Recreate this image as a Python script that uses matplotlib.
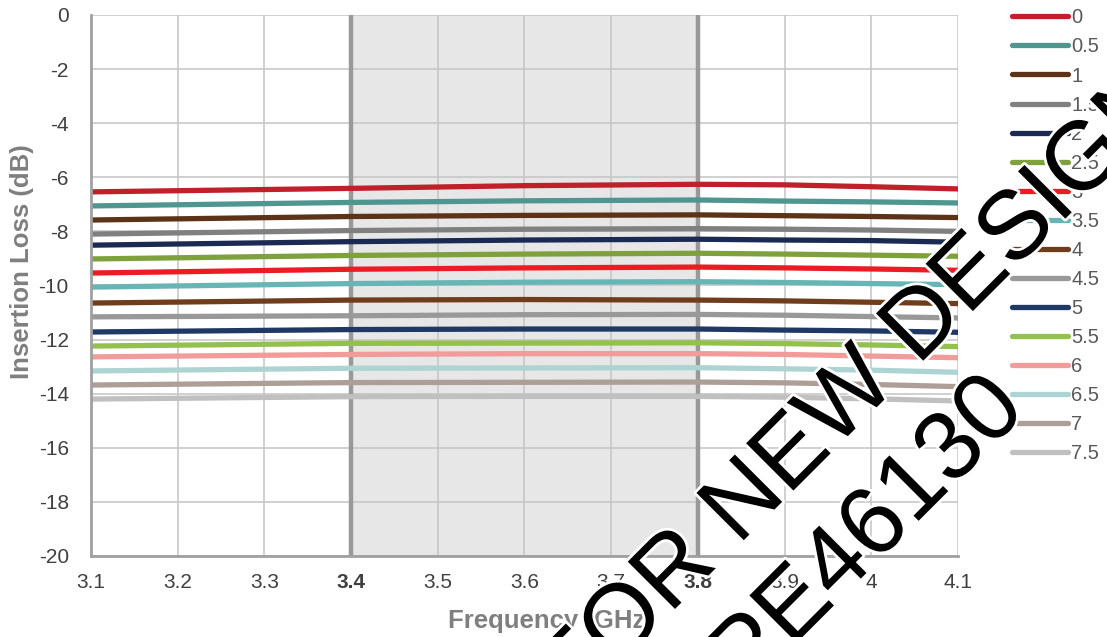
import matplotlib.pyplot as plt
import matplotlib.patheffects as pe

plt.rcParams['font.family'] = ['Liberation Sans', 'DejaVu Sans']

freq = [3.1, 3.4, 3.6, 3.8, 3.9, 4.0, 4.1]  # GHz

labels = ["0", "0.5", "1", "1.5", "2", "2.5", "3", "3.5",
          "4", "4.5", "5", "5.5", "6", "6.5", "7", "7.5"]

loss = [
    [-6.54, -6.41, -6.31, -6.26, -6.28, -6.35, -6.43],
    [-7.06, -6.93, -6.87, -6.84, -6.88, -6.91, -6.95],
    [-7.58, -7.45, -7.41, -7.39, -7.42, -7.45, -7.49],
    [-8.10, -7.97, -7.92, -7.90, -7.92, -7.95, -8.00],
    [-8.51, -8.38, -8.32, -8.29, -8.32, -8.34, -8.40],
    [-9.02, -8.89, -8.84, -8.81, -8.84, -8.88, -8.92],
    [-9.54, -9.40, -9.35, -9.32, -9.35, -9.39, -9.44],
    [-10.06, -9.93, -9.88, -9.86, -9.89, -9.93, -9.97],
    [-10.65, -10.54, -10.52, -10.54, -10.57, -10.62, -10.67],
    [-11.16, -11.12, -11.08, -11.07, -11.10, -11.15, -11.20],
    [-11.72, -11.63, -11.61, -11.61, -11.65, -11.68, -11.73],
    [-12.24, -12.14, -12.13, -12.12, -12.15, -12.20, -12.26],
    [-12.64, -12.55, -12.52, -12.52, -12.55, -12.61, -12.67],
    [-13.16, -13.06, -13.05, -13.04, -13.08, -13.13, -13.21],
    [-13.68, -13.59, -13.58, -13.57, -13.60, -13.66, -13.74],
    [-14.20, -14.11, -14.10, -14.10, -14.13, -14.19, -14.27],
]

colors = ["#c0202a", "#4f9590", "#5c3317", "#808080", "#1b2a52", "#7ea13e",
          "#ed1c24", "#67b5b5", "#6f3d1c", "#999999", "#1f3864", "#94c04e",
          "#f19b9b", "#aed3d3", "#ae9e98", "#c0c0c0"]

band = (3.4, 3.8)
xticks = [3.1, 3.2, 3.3, 3.4, 3.5, 3.6, 3.7, 3.8, 3.9, 4.0, 4.1]
xticklabels = ["3.1", "3.2", "3.3", "3.4", "3.5", "3.6", "3.7", "3.8", "3.9", "4", "4.1"]
yticks = [0, -2, -4, -6, -8, -10, -12, -14, -16, -18, -20]

fig = plt.figure(figsize=(11.07, 6.37), dpi=100)
ax = fig.add_axes([0.0822, 0.1272, 0.7832, 0.8493])

# shaded operating band
ax.axvspan(band[0], band[1], color="#e7e7e7", zorder=0, lw=0)
ax.grid(True, color="#c4c4c4", lw=1.1, zorder=1)
for b in band:
    ax.axvline(b, color="#999999", lw=3.2, zorder=2)

for vals, lab, c in zip(loss, labels, colors):
    ax.plot(freq, vals, color=c, lw=3.8, label=lab, solid_capstyle="round", zorder=3)

ax.set_xlim(3.1, 4.1)
ax.set_ylim(-20, 0)
ax.set_xticks(xticks)
ax.set_xticklabels(xticklabels)
ax.set_yticks(yticks)
ax.set_yticklabels([str(t) for t in yticks])
for t in ax.get_xticklabels():
    if t.get_text() in ("3.4", "3.8"):
        t.set_fontweight("bold")

ax.tick_params(axis="both", length=0, labelsize=15, labelcolor="#404040")
ax.tick_params(axis="x", pad=12)
ax.tick_params(axis="y", pad=16)
for s in ("top", "right"):
    ax.spines[s].set_visible(False)
for s in ("left", "bottom"):
    ax.spines[s].set_color("#a0a0a0")
    ax.spines[s].set_linewidth(2)
    ax.spines[s].set_zorder(4)

ax.set_xlabel("Frequency (GHz)", fontsize=18.5, fontweight="bold", color="#7f7f7f")
ax.set_ylabel("Insertion Loss (dB)", fontsize=18.5, fontweight="bold", color="#7f7f7f")
ax.xaxis.set_label_coords(0.531, -0.098)
ax.yaxis.set_label_coords(-0.066, 0.545)

leg = ax.legend(loc="upper left", bbox_to_anchor=(0.912, 0.99), bbox_transform=fig.transFigure,
                frameon=False, fontsize=14.5, handlelength=2.8, handletextpad=0.15,
                labelspacing=0.5, borderaxespad=0, borderpad=0.1)
for t in leg.get_texts():
    t.set_color("#595959")

# watermark
halo = [pe.withStroke(linewidth=4, foreground="white")]
fig.text(0.724, 0.298, "NOT FOR NEW DESIGNS", fontsize=70, rotation=45, color="black",
         ha="center", va="center", path_effects=halo, zorder=10)
fig.text(0.785, 0.160, "PE46130", fontsize=70, rotation=45, color="black",
         ha="center", va="center", path_effects=halo, zorder=10)

fig.savefig("out.png", dpi=100)
